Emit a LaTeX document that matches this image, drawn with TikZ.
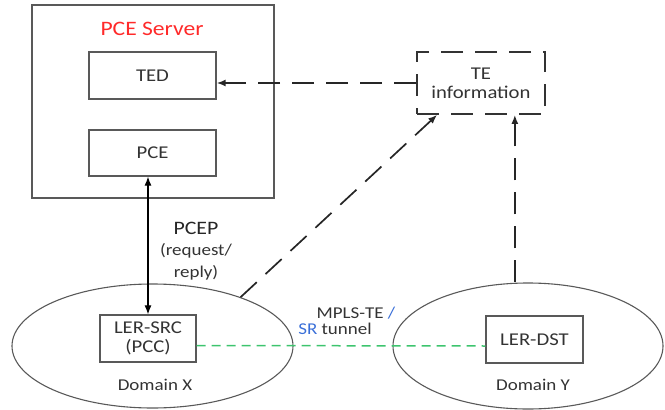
\documentclass[tikz,border=0pt]{standalone}
\usepackage{fontspec}
\setmainfont[FakeStretch=1.15]{Carlito}
\usetikzlibrary{shapes.geometric,arrows.meta}
\definecolor{edge}{HTML}{595959}
\definecolor{txt}{HTML}{333333}
\definecolor{srvred}{HTML}{FF2A2A}
\definecolor{tunnel}{HTML}{3DC46E}
\definecolor{slash}{HTML}{3A6FD8}
\tikzset{
  box/.style={draw=edge, line width=1.3pt, rectangle, inner sep=0pt, font=\fontsize{18}{20}\selectfont, text=txt, align=center},
  dom/.style={draw=edge, line width=1.1pt, ellipse, inner sep=0pt},
  lbl/.style={font=\fontsize{16.5}{18}\selectfont, text=txt, inner sep=0pt},
  dsh/.style={draw=black!85, line width=1.7pt, dash pattern=on 22pt off 12pt},
  tip/.style={-{Latex[length=9pt,width=7pt]}},
  grn/.style={draw=tunnel, line width=1.5pt, dash pattern=on 9pt off 6pt},
}
\begin{document}
\begin{tikzpicture}[x=1pt,y=-1pt]
\useasboundingbox (0,0) rectangle (665,410);
% PCE server
\node[box, minimum width=242pt, minimum height=193pt] (server) at (153,101.5) {};
\node[font=\fontsize{20.5}{22}\selectfont, text=srvred, inner sep=0pt] (title) at (152,29) {PCE Server};
\node[box, minimum width=127pt, minimum height=47pt] (ted) at (152.5,75.5) {TED};
\node[box, minimum width=127pt, minimum height=46pt] (pce) at (152.5,153) {PCE};
% TE information
\node[box, dsh, draw=black!80, minimum width=128pt, minimum height=62pt, font=\fontsize{18}{20}\selectfont] (teinfo) at (481,83) {TE\\[-1pt]information};
% domains
\node[dom, minimum width=281pt, minimum height=124pt] (domX) at (152.5,346) {};
\node[dom, minimum width=270pt, minimum height=126pt] (domY) at (528,346) {};
\node[box, minimum width=96pt, minimum height=47pt] (lersrc) at (148,338.5) {LER-SRC\\[-1pt](PCC)};
\node[box, minimum width=97pt, minimum height=47pt] (lerdst) at (534.5,339.5) {LER-DST};
\node[lbl] (dxl) at (155,385) {Domain X};
\node[lbl] (dyl) at (533,385) {Domain Y};
% labels
\node[font=\fontsize{19}{20}\selectfont, text=black!85, inner sep=0pt] (pcep) at (196,228) {PCEP};
\node[lbl] (req) at (196,251) {(request/};
\node[lbl] (rep) at (196,273) {reply)};
\node[lbl] (mpls) at (356,313) {MPLS-TE \textcolor{slash}{/}};
\node[lbl] (srt) at (335,329) {\textcolor{slash}{SR} tunnel};
% connectors
\draw[dsh, tip] (teinfo.west) -- (ted.east |- teinfo.west);
\coordinate (xin) at ([xshift=21pt]teinfo.south west);
\draw[dsh, tip] (domX.29) -- (xin);
\coordinate (yin) at ([xshift=-31pt]teinfo.south east);
\draw[dsh, tip] (domY.north -| yin) -- (yin);
\draw[line width=1.1pt, black, {Latex[length=9pt,width=7pt]}-{Latex[length=9pt,width=7pt]}] (lersrc.north |- pce.south) -- (lersrc.north);
\draw[grn] ([yshift=-7pt]lersrc.east) -- ([yshift=-6.5pt]lerdst.west);
\end{tikzpicture}
\end{document}
